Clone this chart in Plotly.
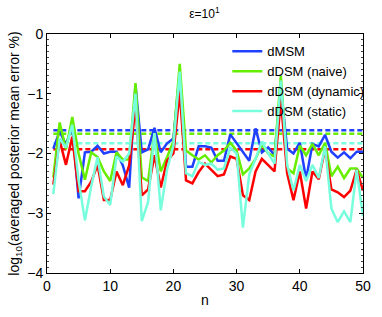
import plotly.graph_objects as go

n = list(range(1, 51))

dmsm = [-1.92, -1.63, -1.85, -1.55, -2.75, -1.98, -1.97, -1.87, -2.00, -1.97,
        -1.97, -2.20, -2.57, -0.85, -1.98, -1.93, -1.57, -1.98, -1.83, -1.75,
        -0.65, -2.22, -2.22, -1.88, -1.88, -1.90, -2.12, -2.12, -1.68, -1.82,
        -1.97, -2.12, -1.58, -1.98, -1.90, -2.03, -0.90, -1.92, -2.00, -1.82,
        -2.43, -1.84, -1.88, -1.69, -1.97, -2.07, -1.98, -2.08, -1.97, -1.97]

naive = [-2.40, -1.48, -1.93, -1.39, -2.00, -2.44, -1.98, -2.06, -2.30, -2.46,
         -1.98, -2.10, -2.10, -0.82, -2.40, -2.46, -1.66, -2.30, -2.06, -1.80,
         -0.50, -1.95, -2.03, -2.10, -2.03, -2.15, -2.03, -1.95, -1.82, -1.95,
         -2.35, -2.25, -2.09, -1.85, -2.00, -2.05, -0.70, -2.25, -2.33, -1.87,
         -2.03, -1.84, -2.03, -1.82, -2.38, -2.22, -2.41, -2.25, -2.25, -2.41]

dynamic = [-2.52, -1.78, -2.19, -1.72, -2.63, -2.63, -2.47, -2.19, -2.78, -2.78,
           -2.30, -2.53, -2.20, -1.20, -2.70, -2.60, -2.03, -2.57, -2.12, -2.00,
           -0.96, -2.45, -2.50, -2.31, -2.17, -2.27, -2.38, -2.35, -2.05, -2.09,
           -2.70, -2.78, -2.30, -2.09, -2.19, -2.30, -1.10, -2.33, -2.78, -2.30,
           -2.92, -2.30, -2.43, -1.92, -2.60, -2.65, -2.73, -2.62, -2.27, -2.62]

static = [-2.68, -1.75, -1.90, -1.52, -2.45, -3.12, -2.55, -2.06, -2.72, -2.86,
          -2.05, -2.14, -2.00, -1.00, -3.13, -2.81, -1.66, -2.95, -2.27, -1.87,
          -0.63, -2.33, -2.38, -2.14, -2.19, -2.17, -2.27, -2.25, -1.90, -2.00,
          -3.24, -2.35, -2.09, -1.80, -2.00, -2.17, -0.78, -2.19, -2.62, -2.19,
          -2.46, -2.19, -2.41, -1.88, -2.92, -3.15, -2.97, -3.15, -2.27, -3.05]

names = ["dMSM", "dDSM (naive)", "dDSM (dynamic)", "dDSM (static)"]
means = [-1.61, -1.67, -1.93, -1.83]
colors = ["#2040ff", "#66ee00", "#ff0000", "#77ffdd"]
series = [dmsm, naive, dynamic, static]

fig = go.Figure()
for s, m, c, nm in zip(series, means, colors, names):
    fig.add_trace(go.Scatter(x=[n[0], n[-1]], y=[m, m], mode="lines",
                             line=dict(color=c, width=2.5, dash="5px,3px"),
                             showlegend=False, hoverinfo="skip"))
for s, m, c, nm in zip(series, means, colors, names):
    fig.add_trace(go.Scatter(x=n, y=s, mode="lines", name=nm,
                             line=dict(color=c, width=2.5)))

font = "Liberation Sans, Arial, sans-serif"
fig.update_layout(
    width=382, height=317,
    margin=dict(l=47, r=11, t=34, b=35),
    plot_bgcolor="white", paper_bgcolor="white",
    font=dict(family=font, size=14, color="black"),
    title=dict(text="ε=10<sup>1</sup>", x=0.535, xanchor="center", y=0.955, yanchor="middle",
               font=dict(size=12)),
    showlegend=True,
    legend=dict(x=1.02, xanchor="right", y=0.99, yanchor="top",
                bgcolor="rgba(0,0,0,0)", font=dict(size=13), tracegroupgap=0,
                itemwidth=30),
    xaxis=dict(range=[0, 50], tickvals=[0, 10, 20, 30, 40, 50], ticks="inside",
               ticklen=4, tickcolor="black", showline=True, linecolor="black",
               linewidth=1, mirror="ticks", showgrid=False, zeroline=False,
               tickfont=dict(size=14),
               title=dict(text="n", font=dict(size=14), standoff=2)),
    yaxis=dict(range=[-4, 0], tickvals=[0, -1, -2, -3, -4], ticks="inside",
               ticklen=4, tickcolor="black", showline=True, linecolor="black",
               linewidth=1, mirror="ticks", showgrid=False, zeroline=False,
               tickfont=dict(size=14),
               minor=dict(ticks="inside", ticklen=2, dtick=0.1, tickcolor="#444"),
               title=dict(text="log<sub>10</sub>(averaged posterior mean error %)",
                          font=dict(size=14), standoff=4)),
)

fig.write_html("out.html", config={"displayModeBar": False})

with open("out.html", "r", encoding="utf-8") as f:
    html = f.read()
html = html.replace("<head>", "<head><style>html,body{margin:0;padding:0;overflow:hidden}</style>", 1)
with open("out.html", "w", encoding="utf-8") as f:
    f.write(html)
